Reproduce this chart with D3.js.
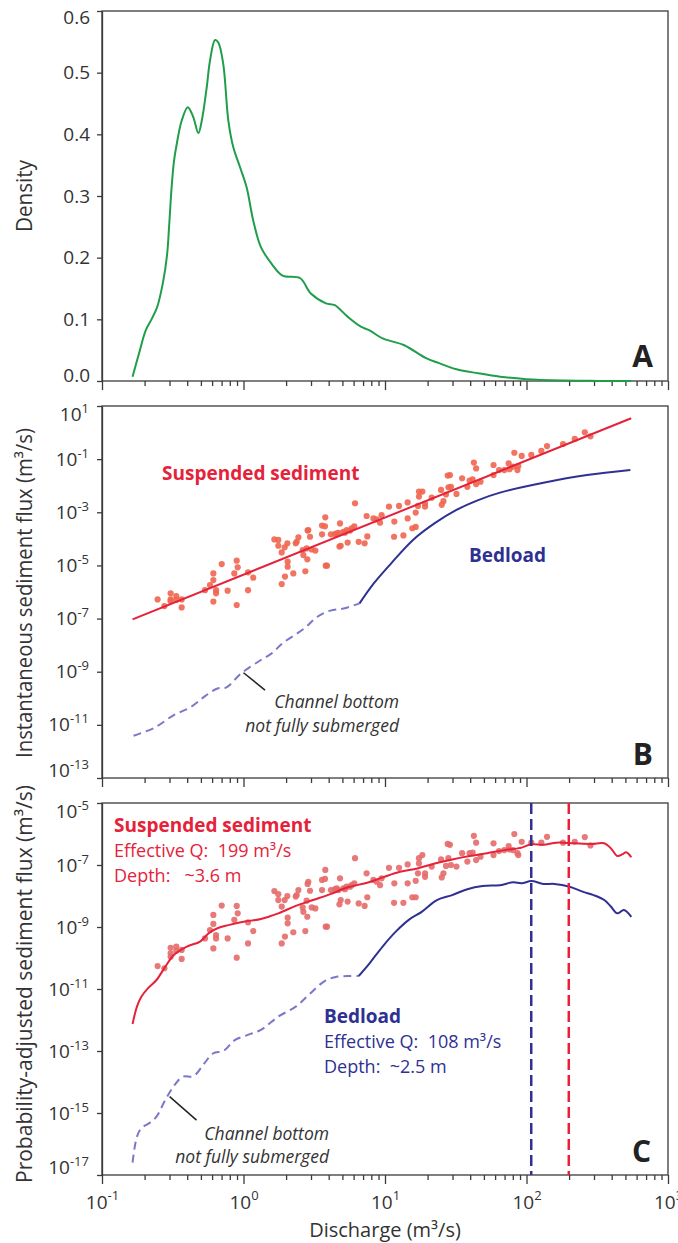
<!DOCTYPE html>
<html>
<head>
<meta charset="utf-8">
<script src="https://cdn.jsdelivr.net/npm/d3@7"></script>
<style>
body { margin: 0; background: #fff; }
svg { font-family: "Open Sans", sans-serif; }
.axis path, .axis line { stroke: #3b3b3b; stroke-width: 1.3; }
.axis text { font-size: 19px; fill: #333; font-family: "Open Sans", sans-serif; }
.frame { fill: none; stroke: #3b3b3b; stroke-width: 1.3; }
.lbl { white-space: pre; }
</style>
</head>
<body>
<div id="chart"></div>
<script>
// all discharge / flux values below are log10 exponents

// panel A: discharge density
var densQ = [-0.784, -0.738, -0.691, -0.650, -0.610, -0.569, -0.540, -0.526, -0.508, -0.491, -0.472, -0.437, -0.394,
  -0.355, -0.319, -0.295, -0.260, -0.237, -0.201, -0.178, -0.143, -0.107, -0.072, -0.025, 0.022, 0.069, 0.123, 0.199,
  0.276, 0.399, 0.476, 0.583, 0.645, 0.737, 0.830, 0.891, 0.983, 1.136, 1.290, 1.382, 1.505, 1.659, 1.813, 1.997,
  2.27, 2.50, 2.74];
var densY = [0.007, 0.045, 0.082, 0.100, 0.120, 0.160, 0.205, 0.250, 0.314, 0.357, 0.384, 0.422, 0.444,
  0.428, 0.402, 0.422, 0.476, 0.519, 0.553, 0.549, 0.514, 0.422, 0.379, 0.347, 0.314, 0.260, 0.217, 0.190,
  0.171, 0.167, 0.142, 0.126, 0.123, 0.104, 0.088, 0.082, 0.069, 0.058, 0.037, 0.029, 0.019, 0.0125, 0.007, 0.003,
  0.0008, 0.0002, 0];

// sediment samples (same discharges in B and C)
var scatQ = [-0.607, -0.559, -0.515, -0.515, -0.515, -0.475, -0.475, -0.437, -0.437, -0.272, -0.237, -0.213, -0.213,
  -0.194, -0.194, -0.213, -0.154, -0.112, -0.065, -0.048, -0.041, -0.048, 0.032, 0.032, 0.069, 0.218, 0.246, 0.246,
  0.270, 0.291, 0.310, 0.312, 0.312, 0.293, 0.270, 0.352, 0.369, 0.376, 0.388, 0.418, 0.423, 0.437, 0.446, 0.451,
  0.453, 0.458, 0.470, 0.482, 0.508, 0.555, 0.555, 0.578, 0.576, 0.581, 0.590, 0.618, 0.647, 0.659, 0.671, 0.678,
  0.682, 0.687, 0.706, 0.717, 0.736, 0.729, 0.753, 0.764, 0.783, 0.788, 0.814, 0.856, 0.870, 0.875, 0.918, 0.941,
  0.965, 0.976, 1.028, 1.066, 1.064, 1.099, 1.130, 1.160, 1.160, 1.193, 1.217, 1.217, 1.233, 1.240, 1.264, 1.240,
  1.283, 1.283, 1.330, 1.396, 1.401, 1.413, 1.431, 1.443, 1.448,
  1.459, 1.466, 1.505, 1.545, 1.582, 1.598, 1.619, 1.628, 1.644, 1.644, 1.675, 1.767, 1.767, 1.806, 1.843, 1.874,
  1.880, 1.905, 1.914, 1.936, 1.942, 1.966, 2.034, 2.105, 2.145, 2.258, 2.341, 2.412, 2.452];
var scatB = [-6.28, -6.53, -6.05, -6.28, -6.35, -6.15, -6.30, -6.28, -6.58, -5.93, -5.74, -5.55, -5.30, -5.93, -6.05,
  -6.36, -4.95, -5.95, -5.30, -4.82, -5.07, -6.49, -5.26, -5.93, -5.46, -4.02, -4.04, -4.26, -4.51, -4.32, -4.17,
  -4.86, -5.05, -5.42, -5.70, -5.30, -4.17, -4.11, -3.94, -4.42, -4.61, -5.22, -4.36, -4.77, -3.69, -3.67, -3.92,
  -4.40, -4.44, -3.50, -3.83, -3.19, -3.53, -5.01, -5.01, -3.83, -3.82, -3.79, -3.77, -4.29, -3.42, -4.26, -3.74,
  -3.77, -4.14, -3.67, -3.69, -3.60, -3.53, -2.66, -4.11, -4.17, -3.14, -3.91, -3.23, -3.27, -3.39, -3.11, -2.79,
  -3.35, -3.92, -2.76, -3.87, -2.63, -3.23, -3.60, -3.55, -3.01, -2.76, -2.41, -2.22, -2.22, -2.67, -2.79, -2.45,
  -2.16, -2.72, -2.58, -2.33, -1.62, -2.06,
  -1.60, -2.04, -2.31, -1.72, -2.04, -1.81, -1.76, -1.13, -1.35, -1.94, -1.85, -1.22, -1.60, -1.41, -1.41, -1.16,
  -1.38, -1.28, -0.76, -1.41, -1.26, -0.88, -0.84, -0.69, -0.51, -0.43, -0.24, 0.01, -0.14];
var scatC = [-10.26, -10.33, -9.67, -9.85, -9.96, -9.63, -9.77, -9.74, -10.03, -9.37, -9.10, -8.90, -8.61, -9.26,
  -9.37, -9.69, -8.31, -9.37, -8.77, -8.32, -8.56, -9.99, -8.85, -9.53, -9.13, -7.84, -7.94, -8.13, -8.34, -8.13,
  -8.00, -8.70, -8.88, -9.31, -9.53, -9.17, -8.02, -7.97, -7.81, -8.37, -8.51, -9.13, -8.15, -8.67, -7.61, -7.54,
  -7.83, -8.37, -8.40, -7.48, -7.81, -7.16, -7.45, -8.99, -8.99, -7.81, -7.78, -7.75, -7.81, -8.27, -7.43, -8.13,
  -7.75, -7.78, -8.18, -7.70, -7.70, -7.65, -7.59, -6.78, -8.24, -8.32, -7.27, -8.04, -7.48, -7.54, -7.65, -7.43,
  -7.09, -7.59, -8.22, -7.09, -8.22, -6.98, -7.59, -8.04, -8.04, -7.51, -7.27, -6.78, -6.68, -6.95, -7.27, -7.38,
  -7.05, -6.82, -7.40, -7.27, -7.03, -6.32, -6.78,
  -6.35, -7.00, -7.05, -6.62, -6.89, -6.62, -6.60, -6.06, -6.28, -6.84, -6.73, -6.30, -6.68, -6.55, -6.52, -6.39,
  -6.50, -6.52, -6.00, -6.62, -6.68, -6.25, -6.28, -6.28, -6.09, -6.28, -6.25, -6.10, -6.37];

// panel B: rating curve fit (end points) and bedload
var suspFitB = [[-0.784, -7.03], [2.740, 0.54]];
var bedSubB = [[-0.777, -11.41], [-0.630, -11.11], [-0.492, -10.63], [-0.369, -10.32], [-0.277, -9.94],
  [-0.184, -9.63], [-0.124, -9.60], [-0.016, -9.06], [0.123, -8.56], [0.199, -8.31], [0.276, -7.93],
  [0.430, -7.37], [0.522, -6.93], [0.614, -6.70], [0.707, -6.62], [0.820, -6.43]];
var bedB = [[0.820, -6.43], [0.922, -5.67], [1.044, -4.92], [1.198, -4.04], [1.352, -3.41], [1.505, -2.91],
  [1.659, -2.54], [1.813, -2.26], [2.120, -1.89], [2.428, -1.60], [2.734, -1.41]];

// panel C: probability-adjusted curves
var suspC = [[-0.784, -12.13], [-0.753, -11.57], [-0.722, -11.25], [-0.676, -10.98], [-0.615, -10.71],
  [-0.553, -10.28], [-0.492, -9.90], [-0.400, -9.63], [-0.307, -9.47], [-0.246, -9.20], [-0.184, -9.04],
  [-0.107, -8.94], [0.000, -8.83], [0.123, -8.74], [0.246, -8.56], [0.369, -8.32], [0.491, -8.13], [0.614, -7.94],
  [0.737, -7.72], [0.860, -7.59], [0.983, -7.40], [1.106, -7.22], [1.229, -7.11], [1.352, -6.95], [1.475, -6.82],
  [1.598, -6.71], [1.721, -6.62], [1.843, -6.52], [1.966, -6.44], [2.034, -6.33], [2.120, -6.35], [2.212, -6.28],
  [2.335, -6.30], [2.458, -6.32], [2.550, -6.30], [2.596, -6.46], [2.642, -6.71], [2.679, -6.65], [2.704, -6.59],
  [2.741, -6.75]];
var bedSubC = [[-0.784, -16.60], [-0.753, -15.76], [-0.722, -15.49], [-0.661, -15.31], [-0.615, -15.12],
  [-0.553, -14.58], [-0.492, -14.13], [-0.430, -13.83], [-0.353, -13.81], [-0.277, -13.40], [-0.216, -13.08],
  [-0.139, -12.99], [-0.062, -12.65], [0.031, -12.48], [0.123, -12.32], [0.246, -11.89], [0.369, -11.57],
  [0.461, -11.19], [0.568, -10.76], [0.645, -10.62], [0.737, -10.58], [0.814, -10.58]];
var bedC = [[0.814, -10.58], [0.891, -10.17], [0.983, -9.63], [1.076, -9.15], [1.168, -8.77], [1.259, -8.51],
  [1.367, -8.13], [1.475, -7.97], [1.582, -7.78], [1.690, -7.68], [1.813, -7.65], [1.905, -7.56], [1.966, -7.59],
  [2.034, -7.52], [2.120, -7.61], [2.197, -7.61], [2.305, -7.70], [2.397, -7.86], [2.474, -7.97], [2.550, -8.13],
  [2.596, -8.34], [2.642, -8.56], [2.688, -8.45], [2.741, -8.67]];

var effQ = { bed: 108, susp: 199 };

var red = "#e5223a", dotB = "#ef6550", dotC = "#e66a6a", navy = "#2e3192", lilac = "#7b77c9", green = "#1f9e4a";

var svg = d3.select("#chart").append("svg")
  .attr("width", 678).attr("height", 1243);

var x = d3.scaleLog().domain([0.1, 1000]).range([102, 668]);
var yA = d3.scaleLinear().domain([0, 0.6]).range([381, 11]);
var yB = d3.scaleLog().domain([1e-13, 1e1]).range([778, 406]);
var yC = d3.scaleLog().domain([1e-17, 1e-5]).range([1175, 803]);

var majors = [0.1, 1, 10, 100, 1000];
var minors = [];
[0.1, 1, 10, 100].forEach(function (b) {
  for (var k = 2; k < 10; k++) minors.push(b * k);
});

function pow10(sel, supDy) {
  sel.each(function (d) {
    var e = Math.round(Math.log10(d));
    var t = d3.select(this).text(null);
    t.append("tspan").text("10");
    t.append("tspan").attr("dy", supDy).attr("font-size", 13).text(e < 0 ? "-" + (-e) : e);
  });
}

// end labels of each y axis sit just inside the frame, as in the original
function nudgeEnds(sel, scale, shift) {
  var r = scale.range();
  sel.attr("transform", function (d) {
    var py = scale(d);
    if (Math.abs(py - r[1]) < 1) return "translate(0," + shift + ")";
    if (Math.abs(py - r[0]) < 1) return "translate(0," + (-shift) + ")";
    return null;
  });
}

function xAxis(bottom, labels) {
  svg.append("g").attr("class", "axis")
    .attr("transform", "translate(0," + bottom + ")")
    .call(d3.axisBottom(x).tickValues(minors).tickSize(5).tickFormat(""))
    .select(".domain").remove();
  var g = svg.append("g").attr("class", "axis")
    .attr("transform", "translate(0," + bottom + ")")
    .call(d3.axisBottom(x).tickValues(majors).tickSize(9).tickSizeOuter(0).tickPadding(4)
      .tickFormat(labels ? function () { return ""; } : ""));
  g.select(".domain").remove();
  if (labels) {
    g.selectAll(".tick text").attr("font-size", 20).attr("dy", "1.1em").call(pow10, -9);
  }
}

function frame(top, bottom) {
  svg.append("rect").attr("class", "frame")
    .attr("x", 102).attr("y", top).attr("width", 566).attr("height", bottom - top);
}

function P(y) {
  return function (d) { return [x(Math.pow(10, d[0])), y(Math.pow(10, d[1]))]; };
}

var smooth = d3.line().curve(d3.curveCatmullRom.alpha(0.5));

// ---------- panel A ----------
frame(11, 381);
svg.append("g").attr("class", "axis")
  .attr("transform", "translate(102,0)")
  .call(d3.axisLeft(yA).tickValues([0, 0.1, 0.2, 0.3, 0.4, 0.5, 0.6]).tickSize(5).tickSizeOuter(0)
    .tickPadding(7).tickFormat(d3.format(".1f")))
  .selectAll(".tick text").attr("font-size", 20).call(nudgeEnds, yA, 6);
xAxis(381, false);

svg.append("path")
  .attr("d", smooth(densQ.map(function (q, i) { return [x(Math.pow(10, q)), yA(densY[i])]; })))
  .attr("fill", "none").attr("stroke", green).attr("stroke-width", 2);

// ---------- panel B ----------
frame(406, 778);
svg.append("g").attr("class", "axis")
  .attr("transform", "translate(102,0)")
  .call(d3.axisLeft(yB).tickValues(d3.range(1, -14, -2).map(function (e) { return Math.pow(10, e); }))
    .tickSize(5).tickSizeOuter(0).tickPadding(8).tickFormat(function () { return ""; }))
  .selectAll(".tick text").attr("font-size", 20).call(pow10, -8).call(nudgeEnds, yB, 8);
xAxis(778, false);

svg.append("g").selectAll("circle")
  .data(scatQ.map(function (q, i) { return [q, scatB[i]]; }))
  .enter().append("circle")
  .attr("cx", function (d) { return P(yB)(d)[0]; })
  .attr("cy", function (d) { return P(yB)(d)[1]; })
  .attr("r", 3.1).attr("fill", dotB).attr("opacity", 0.9);

svg.append("path").attr("d", d3.line()(suspFitB.map(P(yB))))
  .attr("fill", "none").attr("stroke", red).attr("stroke-width", 2);
svg.append("path").attr("d", smooth(bedSubB.map(P(yB))))
  .attr("fill", "none").attr("stroke", lilac).attr("stroke-width", 2).attr("stroke-dasharray", "8,5");
svg.append("path").attr("d", smooth(bedB.map(P(yB))))
  .attr("fill", "none").attr("stroke", navy).attr("stroke-width", 2);

// ---------- panel C ----------
frame(803, 1175);
svg.append("g").attr("class", "axis")
  .attr("transform", "translate(102,0)")
  .call(d3.axisLeft(yC).tickValues(d3.range(-5, -18, -2).map(function (e) { return Math.pow(10, e); }))
    .tickSize(5).tickSizeOuter(0).tickPadding(8).tickFormat(function () { return ""; }))
  .selectAll(".tick text").attr("font-size", 20).call(pow10, -8).call(nudgeEnds, yC, 8);
xAxis(1175, true);

svg.append("g").selectAll("circle")
  .data(scatQ.map(function (q, i) { return [q, scatC[i]]; }))
  .enter().append("circle")
  .attr("cx", function (d) { return P(yC)(d)[0]; })
  .attr("cy", function (d) { return P(yC)(d)[1]; })
  .attr("r", 3.1).attr("fill", dotC).attr("opacity", 0.9);

svg.append("path").attr("d", smooth(suspC.map(P(yC))))
  .attr("fill", "none").attr("stroke", red).attr("stroke-width", 2);
svg.append("path").attr("d", smooth(bedSubC.map(P(yC))))
  .attr("fill", "none").attr("stroke", lilac).attr("stroke-width", 2).attr("stroke-dasharray", "8,5");
svg.append("path").attr("d", smooth(bedC.map(P(yC))))
  .attr("fill", "none").attr("stroke", navy).attr("stroke-width", 2);

[[effQ.bed, navy], [effQ.susp, red]].forEach(function (v) {
  svg.append("line")
    .attr("x1", x(v[0])).attr("x2", x(v[0]))
    .attr("y1", yC.range()[1]).attr("y2", yC.range()[0])
    .attr("stroke", v[1]).attr("stroke-width", 2.5).attr("stroke-dasharray", "11,5");
});

// ---------- labels ----------
function txt(s, px, py, opt) {
  opt = opt || {};
  return svg.append("text").attr("class", "lbl")
    .attr("x", px).attr("y", py)
    .attr("font-size", opt.size || 19)
    .attr("font-weight", opt.bold ? "bold" : null)
    .attr("font-style", opt.italic ? "italic" : null)
    .attr("text-anchor", opt.anchor || "start")
    .attr("fill", opt.color || "#333")
    .text(s);
}

function yTitle(s, cy, len) {
  svg.append("text")
    .attr("transform", "translate(32," + cy + ") rotate(-90)")
    .attr("text-anchor", "middle").attr("font-size", 21).attr("fill", "#333")
    .attr("textLength", len).attr("lengthAdjust", "spacingAndGlyphs")
    .text(s);
}
yTitle("Density", 196, 72);
yTitle("Instantaneous sediment flux (m\u00b3/s)", 593, 330);
yTitle("Probability-adjusted sediment flux (m\u00b3/s)", 984, 398);

svg.append("text").attr("x", 385).attr("y", 1237).attr("text-anchor", "middle")
  .attr("font-size", 20).attr("fill", "#333").text("Discharge (m\u00b3/s)");

txt("A", 653, 367, { size: 30, bold: true, anchor: "end", color: "#222" });
txt("B", 653, 765, { size: 30, bold: true, anchor: "end", color: "#222" });
txt("C", 651, 1162, { size: 30, bold: true, anchor: "end", color: "#222" });

txt("Suspended sediment", 162, 480, { bold: true, color: red, size: 19 });
txt("Bedload", 469, 562, { bold: true, color: navy, size: 19 });
txt("Channel bottom", 399, 708, { italic: true, anchor: "end", size: 17.5 });
txt("not fully submerged", 399, 732, { italic: true, anchor: "end", size: 17.5 });

txt("Suspended sediment", 114, 832, { bold: true, color: red, size: 19 });
txt("Effective Q:  199 m\u00b3/s", 114, 857, { color: red, size: 18 });
txt("Depth:   ~3.6 m", 114, 882, { color: red, size: 18 });
txt("Bedload", 324, 1023, { bold: true, color: navy, size: 19 });
txt("Effective Q:  108 m\u00b3/s", 324, 1048, { color: navy, size: 18 });
txt("Depth:  ~2.5 m", 324, 1073, { color: navy, size: 18 });
txt("Channel bottom", 329, 1140, { italic: true, anchor: "end", size: 17.5 });
txt("not fully submerged", 329, 1163, { italic: true, anchor: "end", size: 17.5 });

// leader lines for the annotations
[[yB, [-0.00, -9.04], [0.152, -9.69]], [yC, [-0.522, -14.47], [-0.332, -15.23]]].forEach(function (l) {
  var a = P(l[0])(l[1]), b = P(l[0])(l[2]);
  svg.append("line").attr("x1", a[0]).attr("y1", a[1]).attr("x2", b[0]).attr("y2", b[1])
    .attr("stroke", "#222").attr("stroke-width", 1.5);
});
</script>
</body>
</html>
